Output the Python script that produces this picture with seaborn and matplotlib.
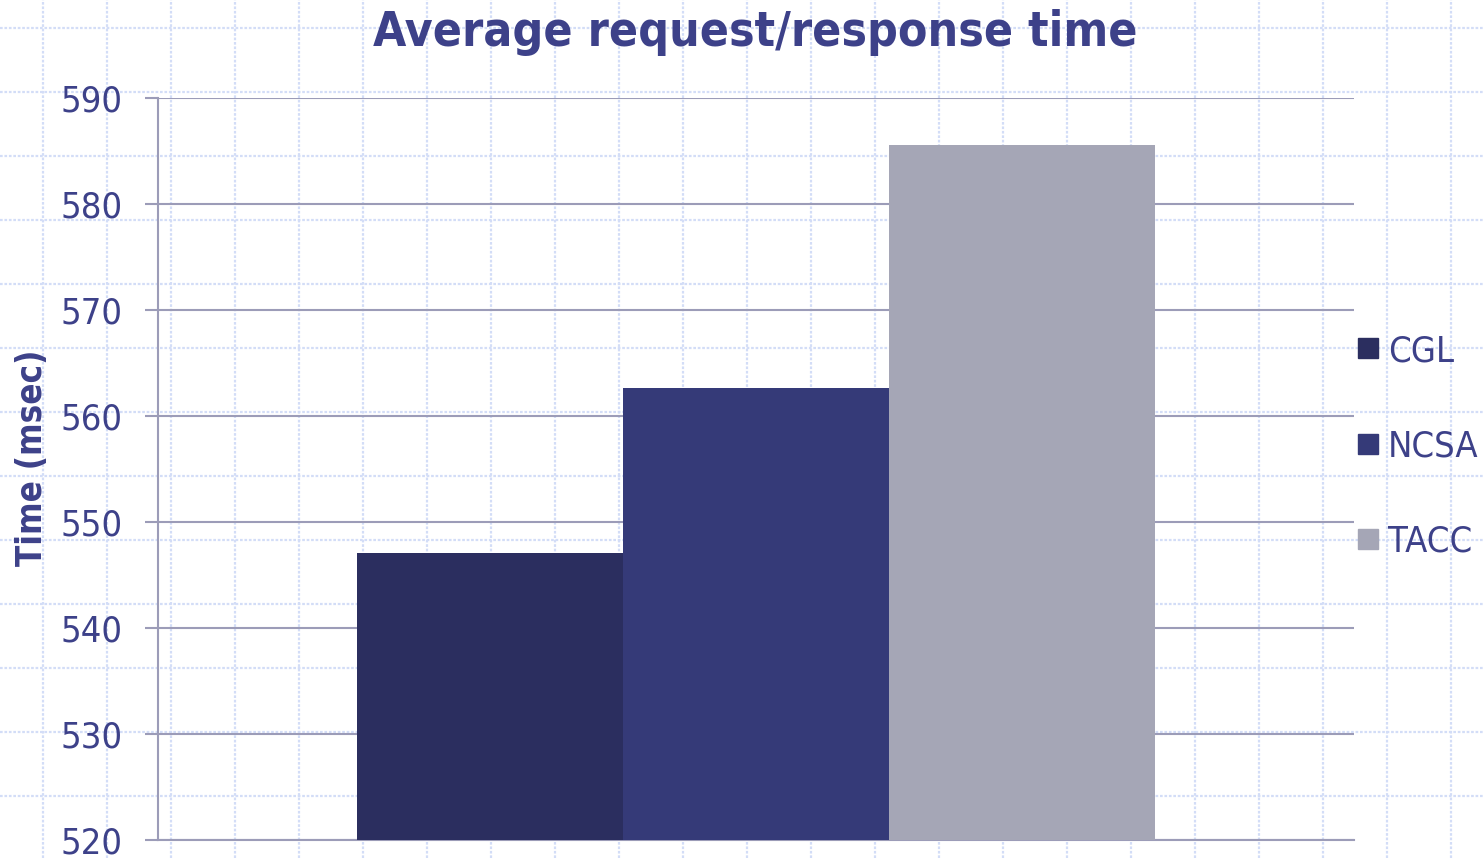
import matplotlib
matplotlib.use("Agg")
import matplotlib.pyplot as plt
import seaborn as sns
import pandas as pd
from matplotlib.lines import Line2D
from matplotlib import font_manager as fm

sites = ["CGL", "NCSA", "TACC"]
times = [547.1, 562.6, 585.6]
site_colors = ["#2b2e5f", "#353a78", "#a5a6b6"]
yticks = [520, 530, 540, 550, 560, 570, 580, 590]

sns.set_theme(style="white")
cond = any(f.name == "DejaVu Sans" and f.stretch in ("condensed", "semi-condensed")
           for f in fm.fontManager.ttflist)
plt.rcParams["font.family"] = ["DejaVu Sans"]
if cond:
    plt.rcParams["font.stretch"] = "condensed"

TXT = "#3d4189"
LINE = "#9c9cb8"

W, H = 1484, 858
fig = plt.figure(figsize=(W / 100, H / 100), dpi=100)
fig.patch.set_facecolor("white")

# background notebook grid
bg = fig.add_axes([0, 0, 1, 1], zorder=-5)
bg.set_xlim(0, W)
bg.set_ylim(H, 0)
bg.axis("off")
for x in range(43, W, 64):
    bg.axvline(x, color="#d3ddf7", lw=1.6, ls=(0, (1.2, 0.8)))
for y in range(28, H, 64):
    bg.axhline(y, color="#d3ddf7", lw=1.6, ls=(0, (1.2, 0.8)))

ax = fig.add_axes([158 / W, 1 - 840 / H, (1354 - 158) / W, (840 - 98) / H], zorder=1)
ax.patch.set_alpha(0)

df = pd.DataFrame({"cat": [""] * 3, "site": sites, "time": times})
sns.barplot(data=df, x="cat", y="time", hue="site", palette=site_colors,
            width=0.667, dodge=True, saturation=1, ax=ax, legend=False,
            edgecolor="none", zorder=3)

ax.set_ylim(520, 590)
ax.set_yticks(yticks)
ax.yaxis.grid(True, color=LINE, lw=1.5, zorder=0)
ax.set_axisbelow(True)
for s in ["top", "right"]:
    ax.spines[s].set_visible(False)
ax.spines["left"].set_color(LINE)
ax.spines["left"].set_linewidth(1.5)
ax.spines["bottom"].set_color(LINE)
ax.spines["bottom"].set_linewidth(1.5)
ax.tick_params(axis="y", length=9.5, width=1.5, color=LINE, labelcolor=TXT,
               labelsize=26, pad=16, left=True)
ax.tick_params(axis="x", length=0, labelbottom=False)
ax.set_xlabel("")
ax.set_ylabel("Time (msec)", fontsize=25, fontweight="bold", color=TXT)
ax.yaxis.set_label_coords(-0.0915, 0.515)

fig.text(755 / W, 1 - 32 / H, "Average request/response time", ha="center", va="center",
         fontsize=34.5, fontweight="bold", color=TXT)

handles = [Line2D([], [], marker="s", ls="none", markersize=14.5, markerfacecolor=c,
                  markeredgecolor=c) for c in site_colors]
fig.legend(handles, sites, loc="upper left", bbox_to_anchor=(1350 / W, 1 - 334 / H),
           frameon=False, fontsize=26, labelcolor=TXT, handletextpad=0.05,
           labelspacing=1.7, handlelength=1.0, borderaxespad=0, borderpad=0)

fig.savefig("out.png", dpi=100)
